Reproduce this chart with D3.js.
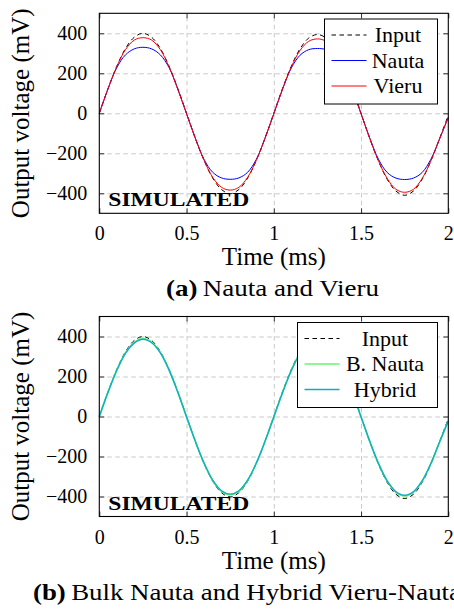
<!DOCTYPE html>
<html>
<head>
<meta charset="utf-8">
<script src="https://cdn.jsdelivr.net/npm/d3@7"></script>
<style>
  body { margin: 0; background: #fff; }
  svg { display: block; font-family: "Liberation Serif", serif; }
</style>
</head>
<body>
<svg id="chart"></svg>
<script>
// time samples (ms)
let time = [0, 0.05, 0.1, 0.15, 0.2, 0.25, 0.3, 0.35, 0.4, 0.45,
            0.5, 0.55, 0.6, 0.65, 0.7, 0.75, 0.8, 0.85, 0.9, 0.95,
            1, 1.05, 1.1, 1.15, 1.2, 1.25, 1.3, 1.35, 1.4, 1.45,
            1.5, 1.55, 1.6, 1.65, 1.7, 1.75, 1.8, 1.85, 1.9, 1.95, 2]

// output voltages (mV)
let inputV = [0, 124, 235, 324, 380, 400, 380, 324, 235, 124,
              0, -124, -235, -324, -381, -402, -381, -324, -235, -124,
              0, 124, 235, 322, 376, 394, 376, 322, 235, 124,
              0, -126, -239, -330, -389, -410, -389, -330, -239, -126, -10]
let nautaV = [0, 122, 228, 292, 322, 330, 322, 292, 228, 120,
              -2, -124, -230, -295, -323, -330, -323, -295, -230, -124,
              -2, 120, 226, 290, 318, 324, 318, 290, 228, 122,
              -2, -124, -230, -296, -324, -331, -324, -296, -230, -128, -20]
let vieruV = [0, 123, 233, 318, 366, 378, 366, 318, 232, 121,
              -2, -124, -234, -320, -370, -384, -370, -320, -234, -124,
              -2, 121, 231, 314, 360, 372, 360, 314, 232, 122,
              -2, -126, -238, -326, -380, -395, -380, -326, -238, -128, -20]
let bulkNautaV = [0, 122, 232, 318, 370, 389, 372, 320, 233, 122,
                  -2, -124, -233, -320, -374, -391, -374, -320, -233, -124,
                  -2, 120, 230, 316, 368, 386, 368, 316, 230, 120,
                  -2, -125, -236, -324, -379, -397, -379, -324, -236, -128, -20]
let hybridV = [0, 121, 230, 316, 367, 386, 369, 318, 232, 121,
               -2, -123, -232, -318, -371, -388, -371, -318, -232, -123,
               -2, 119, 229, 314, 365, 383, 365, 314, 229, 119,
               -2, -124, -235, -322, -376, -394, -376, -322, -235, -127, -22]

let xTicks = [0, 0.5, 1, 1.5, 2]
let yTicks = [-400, -200, 0, 200, 400]

let width = 454
let height = 615

let svg = d3.select('#chart').attr('width', width).attr('height', height)

let line = (x, y) => d3.line()
    .x((d, i) => x(time[i]))
    .y(d => y(d))
    .curve(d3.curveCatmullRom)

let drawPanel = (p) => {
    let x = d3.scaleLinear().domain([0, 2]).range([p.left, p.right])
    let y = d3.scaleLinear().domain([-500, 500]).range([p.bottom, p.top])
    let g = svg.append('g')

    // grid
    g.append('g')
        .attr('transform', 'translate(0,' + p.bottom + ')')
        .call(d3.axisBottom(x).tickValues(xTicks.slice(1, -1)).tickSize(p.top - p.bottom).tickFormat(''))
        .call(a => a.select('.domain').remove())
        .selectAll('line').attr('stroke', '#c8c8c8').attr('stroke-dasharray', '4.5,3.5')
    g.append('g')
        .attr('transform', 'translate(' + p.left + ',0)')
        .call(d3.axisLeft(y).tickValues(yTicks).tickSize(p.left - p.right).tickFormat(''))
        .call(a => a.select('.domain').remove())
        .selectAll('line').attr('stroke', '#c8c8c8').attr('stroke-dasharray', '4.5,3.5')

    // series
    p.series.forEach(s => {
        g.append('path')
            .datum(s.values)
            .attr('d', line(x, y))
            .attr('fill', 'none')
            .attr('stroke', s.color)
            .attr('stroke-width', s.width)
            .attr('stroke-dasharray', s.dash || null)
    })

    // ticks inside on four sides
    let tickStyle = a => {
        a.select('.domain').remove()
        a.selectAll('.tick line').attr('stroke', '#333').attr('stroke-width', 1)
    }
    let bottomAxis = g.append('g')
        .attr('transform', 'translate(0,' + p.bottom + ')')
        .call(d3.axisBottom(x).tickValues(xTicks).tickFormat(d3.format('~g')).tickSizeInner(-5).tickPadding(13))
        .call(tickStyle)
    bottomAxis.selectAll('text').attr('font-size', 20).attr('fill', '#000')
        .attr('font-family', '"Liberation Serif", serif')
    g.append('g')
        .attr('transform', 'translate(0,' + p.top + ')')
        .call(d3.axisTop(x).tickValues(xTicks).tickSizeInner(-5).tickFormat(''))
        .call(tickStyle)
    let leftAxis = g.append('g')
        .attr('transform', 'translate(' + p.left + ',0)')
        .call(d3.axisLeft(y).tickValues(yTicks).tickSizeInner(-5).tickPadding(12))
        .call(tickStyle)
    leftAxis.selectAll('text').attr('font-size', 20).attr('fill', '#000')
        .attr('font-family', '"Liberation Serif", serif')
    g.append('g')
        .attr('transform', 'translate(' + p.right + ',0)')
        .call(d3.axisRight(y).tickValues(yTicks).tickSizeInner(-5).tickFormat(''))
        .call(tickStyle)

    // frame
    g.append('rect')
        .attr('x', p.left).attr('y', p.top)
        .attr('width', p.right - p.left).attr('height', p.bottom - p.top)
        .attr('fill', 'none').attr('stroke', '#000').attr('stroke-width', 1.1)

    g.append('text')
        .attr('x', p.left + 9).attr('y', p.bottom - 7)
        .attr('font-weight', 'bold').attr('font-size', 19)
        .attr('textLength', 141).attr('lengthAdjust', 'spacingAndGlyphs')
        .text('SIMULATED')

    // axis labels
    g.append('text')
        .attr('x', (p.left + p.right) / 2).attr('y', p.bottom + 52)
        .attr('text-anchor', 'middle').attr('font-size', 25)
        .text('Time (ms)')
    g.append('text')
        .attr('transform', 'translate(29,' + (p.top + p.bottom) / 2 + ') rotate(-90)')
        .attr('text-anchor', 'middle').attr('font-size', 25)
        .text('Output voltage (mV)')

    // caption
    let cap = g.append('text')
        .attr('x', p.capX).attr('y', p.bottom + 83)
        .attr('font-size', 24)
        .attr('textLength', p.capLen).attr('lengthAdjust', 'spacingAndGlyphs')
    cap.append('tspan').attr('font-weight', 'bold').text(p.capTag)
    cap.append('tspan').text('\u2009' + p.capText)

    // legend
    let lg = g.append('g')
    lg.append('rect')
        .attr('x', p.legend.x).attr('y', p.legend.y)
        .attr('width', p.legend.w).attr('height', p.legend.h)
        .attr('fill', '#fff').attr('stroke', '#000').attr('stroke-width', 1)
    p.series.forEach((s, i) => {
        let cy = p.legend.y + 16 + i * 25.5
        lg.append('line')
            .attr('x1', p.legend.x + 7).attr('x2', p.legend.x + 42)
            .attr('y1', cy).attr('y2', cy)
            .attr('stroke', s.color).attr('stroke-width', s.width)
            .attr('stroke-dasharray', s.dash || null)
        lg.append('text')
            .attr('x', p.legend.textX).attr('y', cy + 7)
            .attr('text-anchor', 'middle').attr('font-size', 22)
            .text(s.name)
    })
}

drawPanel({
    left: 99.3, right: 448.3, top: 13.3, bottom: 213.3,
    capX: 166, capLen: 213, capTag: '(a)', capText: 'Nauta and Vieru',
    legend: {x: 324.5, y: 19, w: 113, h: 85, textX: 398},
    series: [
        {name: 'Input', values: inputV, color: '#000', width: 1, dash: '4.5,3.5'},
        {name: 'Nauta', values: nautaV, color: '#0000ff', width: 1},
        {name: 'Vieru', values: vieruV, color: '#ff0000', width: 1}
    ]
})

drawPanel({
    left: 99.3, right: 448.3, top: 316.5, bottom: 516.5,
    capX: 33, capLen: 428, capTag: '(b)', capText: 'Bulk Nauta and Hybrid Vieru-Nauta',
    legend: {x: 297.5, y: 322.5, w: 140, h: 85, textX: 385},
    series: [
        {name: 'Input', values: inputV, color: '#000', width: 1, dash: '4.5,3.5'},
        {name: 'B. Nauta', values: bulkNautaV, color: '#6af46a', width: 1.7},
        {name: 'Hybrid', values: hybridV, color: '#10acd0', width: 1.4}
    ]
})
</script>
</body>
</html>
